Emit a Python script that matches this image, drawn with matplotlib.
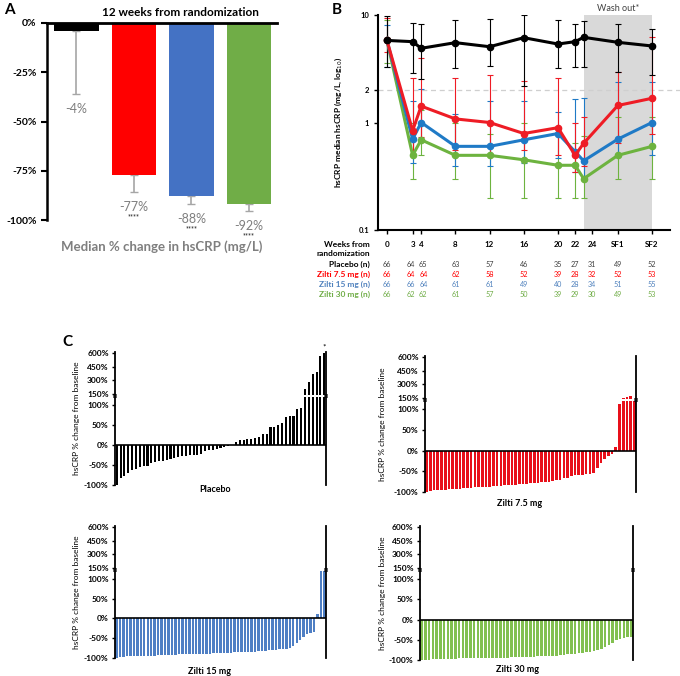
import numpy as np
import matplotlib
matplotlib.use("Agg")
import matplotlib.pyplot as plt
from matplotlib.ticker import NullLocator

plt.rcParams['font.family'] = ['Lato', 'DejaVu Sans']

W, H = 680, 676

def box(l, t, r, b):
    return [l / W, 1 - b / H, (r - l) / W, (b - t) / H]

# ---------------- data ----------------
# panel A: median % change at week 12
groups = ["Placebo", "Zilti 7.5 mg", "Zilti 15 mg", "Zilti 30 mg"]
a_median = [-4, -77, -88, -92]
a_err_low = [-36, -86, -92, -95.5]
a_stars = ["", "****", "****", "****"]
bar_colors = ["#000000", "#ff0000", "#4472c4", "#70ad47"]

# panel B: median hsCRP over time
week_labels = ["0", "3", "4", "8", "12", "16", "20", "22", "24", "SF1", "SF2"]
week_ticks = [0, 3, 4, 8, 12, 16, 20, 22, 24, 27, 31]
week_pos = [0, 3, 4, 8, 12, 16, 20, 22, 23, 27, 31]
washout = (23, 31)

pbo_med = [5.8, 5.65, 4.9, 5.53, 5.07, 6.15, 5.37, 5.65, 6.2, 5.57, 5.15]
pbo_hi = [9.85, 8.37, 8.2, 8.98, 9.18, 10.0, 8.98, 8.25, 8.8, 8.2, 7.36]
pbo_lo = [3.3, 2.87, 2.56, 3.19, 3.38, 2.19, 3.19, 3.26, 3.3, 2.97, 2.77]

z75_med = [5.8, 0.84, 1.42, 1.08, 1.0, 0.79, 0.895, 0.495, 0.64, 1.44, 1.68]
z75_hi = [9.3, 2.58, 3.95, 2.58, 2.76, 2.43, 2.58, 1.0, 1.13, 2.97, 6.2]
z75_lo = [4.5, 0.5, 0.74, 0.55, 0.5, 0.555, 0.5, 0.35, 0.39, 0.65, 0.79]

z15_med = [5.8, 0.70, 1.0, 0.60, 0.60, 0.69, 0.79, 0.535, 0.44, 0.70, 1.0]
z15_hi = [8.1, 1.59, 2.03, 1.19, 1.57, 1.57, 1.24, 1.64, 1.70, 2.39, 2.39]
z15_lo = [3.3, 0.42, 0.68, 0.39, 0.39, 0.42, 0.47, 0.35, 0.30, 0.50, 0.50]

z30_med = [5.8, 0.495, 0.69, 0.495, 0.495, 0.45, 0.40, 0.40, 0.30, 0.495, 0.60]
z30_hi = [9.0, 1.0, 1.3, 1.0, 0.79, 1.0, 0.9, 0.65, 0.75, 1.12, 1.12]
z30_lo = [3.6, 0.30, 0.50, 0.30, 0.20, 0.20, 0.20, 0.20, 0.20, 0.30, 0.30]

n_pbo = [66, 64, 65, 63, 57, 46, 35, 27, 31, 49, 52]
n_z75 = [66, 64, 64, 62, 58, 52, 39, 28, 32, 52, 53]
n_z15 = [66, 66, 64, 61, 61, 49, 40, 28, 34, 51, 55]
n_z30 = [66, 62, 62, 61, 57, 50, 39, 29, 30, 49, 53]

# panel C: individual % change from baseline (sorted)
wf_pbo = [-100, -83, -78, -70, -63, -59, -55, -53, -52, -45, -43, -40, -39, -37, -35,
          -33, -30, -28, -28, -26, -25, -24, -23, -14, -13, -12, -10, -8, -6, -3, -1,
          8, 12, 13, 16, 16, 17, 20, 27, 28, 46, 46, 50, 54, 69, 72, 72, 90, 93,
          202, 285, 366, 388, 570, 605]
wf_z75 = [-100, -97, -96, -95, -95, -94, -93, -93, -92, -92, -91, -90, -90, -89, -88,
          -88, -87, -87, -86, -85, -85, -84, -83, -83, -82, -81, -80, -80, -79, -78,
          -78, -77, -77, -76, -74, -72, -70, -67, -65, -62, -60, -59, -58, -57, -56,
          -55, -42, -30, -20, -14, -8, 10, 112, 155, 160, 170, 135]
wf_z15 = [-100, -97, -97, -96, -96, -96, -95, -95, -95, -94, -94, -94, -93, -93, -93,
          -92, -92, -92, -91, -91, -91, -90, -90, -90, -90, -89, -89, -89, -88, -88,
          -88, -87, -87, -87, -86, -86, -86, -85, -85, -84, -84, -83, -83, -82, -81,
          -80, -79, -78, -77, -76, -74, -70, -62, -55, -47, -40, -36, -33, 12, 125, 130]
wf_z30 = [-100, -99, -99, -98, -98, -98, -97, -97, -97, -97, -96, -96, -96, -96, -95,
          -95, -95, -95, -95, -94, -94, -94, -94, -94, -93, -93, -93, -93, -92, -92,
          -92, -91, -91, -90, -90, -89, -89, -88, -87, -86, -85, -84, -83, -82, -80,
          -79, -77, -75, -72, -68, -62, -57, -50, -48, -46, -44, -43]

line_colors = ["#000000", "#ee1c25", "#1f7ac6", "#6db33f"]
text_colors = ["#000000", "#ff0000", "#4f81bd", "#70ad47"]

fig = plt.figure(figsize=(W / 100, H / 100), dpi=100)

# ---------------- panel A ----------------
axA = fig.add_axes(box(47, 23, 277, 220))
xa = np.arange(len(groups))
axA.bar(xa, a_median, width=0.78, color=bar_colors, zorder=2)
med = np.array(a_median, dtype=float)
lo = np.array(a_err_low)
axA.errorbar(xa, med, yerr=[med - lo, np.zeros_like(med)], fmt="none",
             ecolor="#a6a6a6", elinewidth=1.2, capsize=3, capthick=1, zorder=1)
for i in range(len(groups)):
    axA.text(xa[i], a_err_low[i] - 7.5, f"{a_median[i]}%", ha="center", va="center",
             fontsize=9, color="#7f7f7f")
    if a_stars[i]:
        axA.text(xa[i], a_err_low[i] - 12.5, a_stars[i], ha="center", va="center",
                 fontsize=5, color="#404040", fontweight="bold")
axA.set_ylim(-100, 0)
axA.set_xlim(-0.513, 3.487)
axA.set_yticks([0, -25, -50, -75, -100])
axA.set_yticklabels(["0%", "-25%", "-50%", "-75%", "-100%"], fontsize=7.5, fontweight="bold")
axA.set_xticks([])
axA.spines["right"].set_visible(False)
axA.spines["bottom"].set_visible(False)
axA.spines["top"].set_linewidth(2)
axA.spines["left"].set_linewidth(1.8)
axA.tick_params(axis="y", length=4, width=1.5)
fig.text(180 / W, 1 - 12 / H, "12 weeks from randomization", ha="center", va="center",
         fontsize=8.5, fontweight="bold")
fig.text(162 / W, 1 - 247 / H, "Median % change in hsCRP (mg/L)", ha="center", va="center",
         fontsize=9.5, fontweight="bold", color="#7f7f7f")
fig.text(4 / W, 1 - 10 / H, "A", ha="left", va="center", fontsize=11, fontweight="bold")

# ---------------- panel B ----------------
axB = fig.add_axes(box(378, 15, 670, 230))
axB.set_yscale("log")
axB.axvspan(washout[0], washout[1], color="#d9d9d9", zorder=0, lw=0)
axB.plot([0, 1.035], [2, 2], transform=axB.get_yaxis_transform(), clip_on=False,
         color="#cfcfcf", lw=0.9, ls=(0, (4, 3)), zorder=0.5)
series = [(z30_med, z30_lo, z30_hi), (z15_med, z15_lo, z15_hi),
          (z75_med, z75_lo, z75_hi), (pbo_med, pbo_lo, pbo_hi)]
cols = [line_colors[3], line_colors[2], line_colors[1], line_colors[0]]
for (m, l, h), c in zip(series, cols):
    m = np.array(m)
    axB.errorbar(week_pos, m, yerr=[m - np.array(l), np.array(h) - m], color=c, lw=2.2,
                 marker="o", ms=4.5, elinewidth=0.8, capsize=2, capthick=0.8)
axB.set_ylim(0.1, 10)
axB.set_xlim(-1.05, 33.1)
axB.set_yticks([0.1, 1, 2, 10])
axB.set_yticklabels(["0.1", "1", "2", "10"], fontsize=5.5, fontweight="bold")
axB.yaxis.set_minor_locator(NullLocator())
axB.set_xticks(week_ticks)
axB.set_xticklabels([])
axB.tick_params(axis="both", length=3, width=1)
axB.spines["top"].set_visible(False)
axB.spines["right"].set_visible(False)
axB.spines["left"].set_linewidth(1.5)
axB.spines["bottom"].set_linewidth(1.5)
axB.set_ylabel("hsCRP median hsCRP (mg/L, log$_{10}$)", fontsize=6, fontweight="bold", labelpad=10)
axB.text((washout[0] + washout[1]) / 2, 10.4, "Wash out*", ha="center", va="bottom",
         fontsize=6.5, color="#404040")
fig.text(332 / W, 1 - 10 / H, "B", ha="left", va="center", fontsize=11, fontweight="bold")

tr = axB.get_xaxis_transform()
def yfrac(ypx):
    return (230 - ypx) / 215

for w, lab in zip(week_ticks, week_labels):
    axB.text(w, yfrac(244), lab, transform=tr, ha="center", va="center", fontsize=5.8,
             fontweight="bold", clip_on=False)
fig.text(370 / W, 1 - 244 / H, "Weeks from", ha="right", va="center", fontsize=6, fontweight="bold")
fig.text(370 / W, 1 - 253 / H, "randomization", ha="right", va="center", fontsize=6, fontweight="bold")
row_names = ["Placebo (n)", "Zilti 7.5 mg (n)", "Zilti 15 mg (n)", "Zilti 30 mg (n)"]
row_vals = [n_pbo, n_z75, n_z15, n_z30]
row_y = [264, 274, 284, 294]
for name, vals, yp, tc in zip(row_names, row_vals, row_y, text_colors):
    fig.text(370 / W, 1 - yp / H, name, ha="right", va="center", fontsize=6,
             fontweight="bold", color=tc)
    numc = "#404040" if tc == "#000000" else tc
    for w, v in zip(week_ticks, vals):
        # weeks 3 and 4 sit close together: nudge their counts apart slightly
        dx = -0.25 if w == 3 else (0.25 if w == 4 else 0)
        axB.text(w + dx, yfrac(yp), str(v), transform=tr, ha="center", va="center",
                 fontsize=5.2, color=numc, clip_on=False)

# ---------------- panel C ----------------
def waterfall(left, top, right, bottom, vals, color, name, ylab_x, name_xy, bw):
    k = 41 / 450
    axU = fig.add_axes(box(left, top - 15 * k, right, top + 41 + 10 * k))
    axL = fig.add_axes(box(left, top + 44, right, bottom))
    idx = np.arange(len(vals))
    for ax in (axU, axL):
        ax.bar(idx, vals, width=bw, color=color, lw=0)
        ax.set_xlim(-0.45, len(vals) - 0.55)
        ax.set_xticks([])
        ax.spines["top"].set_visible(False)
        ax.spines["bottom"].set_visible(False)
        ax.spines["left"].set_linewidth(1.3)
        ax.spines["right"].set_linewidth(1.3)
        ax.tick_params(axis="y", length=2.5, width=1, labelsize=6, pad=2)
    axU.set_ylim(140, 615)
    axU.set_yticks([150, 300, 450, 600])
    axU.set_yticklabels(["150%", "300%", "450%", "600%"], fontweight="bold")
    axL.set_ylim(-100, 120)
    axL.set_yticks([-100, -50, 0, 50, 100])
    axL.set_yticklabels(["-100%", "-50%", "0%", "50%", "100%"], fontweight="bold")
    axL.axhline(0, color="black", lw=1.2)
    # break marks on both spines
    for ax, yy in ((axU, 0), (axL, 1)):
        for xx in (0, 1):
            ax.plot([xx - 0.007, xx + 0.007], [yy, yy], transform=ax.transAxes,
                    color="black", lw=1.1, clip_on=False)
    fig.text(ylab_x / W, 1 - ((top - 15 * k) + bottom) / 2 / H, "hsCRP % change from baseline",
             rotation=90, ha="center", va="center", fontsize=6)
    fig.text(name_xy[0] / W, 1 - name_xy[1] / H, name, ha="center", va="center",
             fontsize=6.5, fontweight="bold")
    return axU, axL

uP, lP = waterfall(115, 353, 326, 485, wf_pbo, "#000000", "Placebo", 76, (215, 489), 0.55)
uP.text(len(wf_pbo) - 1, 628, "*", ha="center", va="bottom", fontsize=6)
waterfall(425, 357, 636, 492, wf_z75, "#e8101a", "Zilti 7.5 mg", 383, (520, 503), 0.7)
waterfall(115, 527, 326, 658, wf_z15, "#4f7fc4", "Zilti 15 mg", 76, (209, 671), 0.7)
waterfall(420, 527, 633, 660, wf_z30, "#82c050", "Zilti 30 mg", 383, (518, 670), 0.7)
fig.text(62 / W, 1 - 342 / H, "C", ha="left", va="center", fontsize=11, fontweight="bold")

fig.savefig("out.png", dpi=100)
